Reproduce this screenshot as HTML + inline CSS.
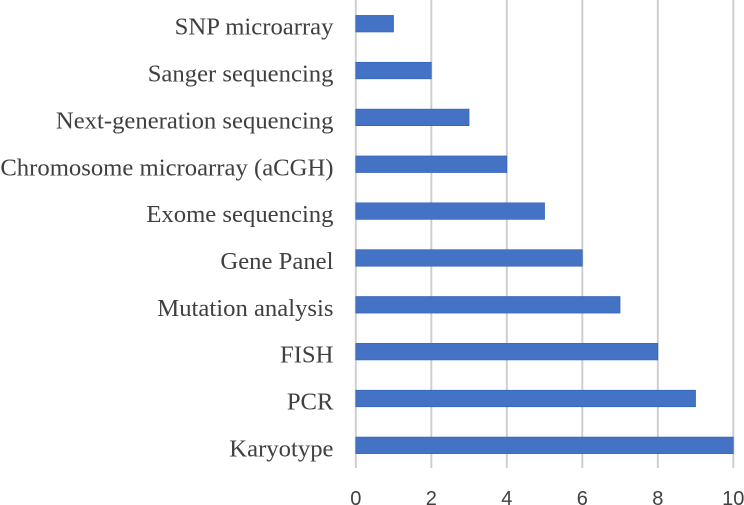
<!DOCTYPE html>
<html>
<head>
<meta charset="utf-8">
<style>
html,body{margin:0;padding:0;background:#fff;}
svg{display:block;}
.cat{font-family:"Liberation Serif",serif;font-size:24.7px;fill:#404040;text-anchor:end;}
.tick{font-family:"Liberation Sans",sans-serif;font-size:20px;fill:#404040;text-anchor:middle;}
</style>
</head>
<body>
<svg id="chart" width="744" height="505" viewBox="0 0 744 505" xmlns="http://www.w3.org/2000/svg"></svg>
<script>
const categories = ["SNP microarray","Sanger sequencing","Next-generation sequencing","Chromosome microarray (aCGH)","Exome sequencing","Gene Panel","Mutation analysis","FISH","PCR","Karyotype"];
const values = [1,2,3,4,5,6,7,8,9,10];
const tickValues = [0,2,4,6,8,10];
const NS = "http://www.w3.org/2000/svg";
const svg = document.getElementById("chart");
const xOf = v => 355.8 + v * 37.75;
const yOf = i => 23.7 + i * 46.85;
function make(tag, attrs, text){
  const el = document.createElementNS(NS, tag);
  for (const k in attrs) el.setAttribute(k, attrs[k]);
  if (text !== undefined) el.textContent = text;
  svg.appendChild(el);
  return el;
}
tickValues.forEach(t => {
  const line = make("line", {x1:xOf(t), x2:xOf(t), y1:0, y2:468, stroke:"#cfcfcf", "stroke-width":2});
  
  
  const label = make("text", {x:xOf(t), y:505, class:"tick"}, t);
  
  
});
categories.forEach((c, i) => {
  const bar = make("rect", {x:xOf(0), y:yOf(i)-8.3, width:xOf(values[i])-xOf(0), height:16.6, fill:"#4472c4", stroke:"#2f5fb5", "stroke-width":0.6});
  
  
  const label = make("text", {x:333.5, y:yOf(i)+11, class:"cat"}, c);
  
  
});
</script>
</body>
</html>
